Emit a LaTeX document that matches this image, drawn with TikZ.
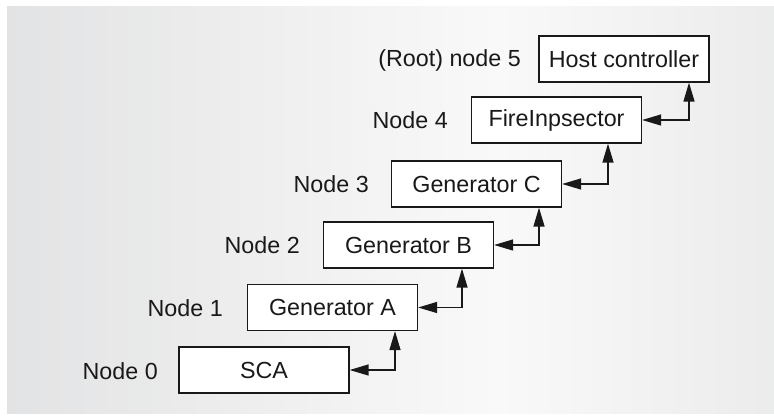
\documentclass[tikz,border=0pt]{standalone}
\usepackage{fontspec}
\setmainfont{Liberation Sans}
\usetikzlibrary{arrows.meta,calc}
\definecolor{bgL}{RGB}{209,210,212}
\definecolor{bgM}{RGB}{249,249,249}
\definecolor{bgR}{RGB}{216,217,219}
\definecolor{ink}{RGB}{25,25,25}
\pgfdeclarehorizontalshading{bgshade}{100bp}{color(0bp)=(bgL); color(57bp)=(bgM); color(100bp)=(bgR)}
\tikzset{
  box/.style={draw=ink, line width=1.3pt, fill=white, minimum width=170pt, minimum height=46pt, inner sep=0pt, text=ink, font=\fontsize{23.3}{25}\selectfont},
  lbl/.style={anchor=east, inner sep=0pt, text=ink, font=\fontsize{23.3}{25}\selectfont},
  link/.style={draw=ink, line width=1.4pt, {Triangle[length=19pt,width=11pt]}-{Triangle[length=19pt,width=11pt]}}
}
\begin{document}
\begin{tikzpicture}[x=1pt,y=-1pt]
\useasboundingbox (0,0) rectangle (774,419);
\fill[white] (0,0) rectangle (774,419);
\shade[shading=bgshade] (7,7) rectangle (774,414);
\node[box] (n0) at (264,370) {SCA};
\node[box] (n1) at (332.5,307.5) {Generator A};
\node[box] (n2) at (408.5,245) {Generator B};
\node[box] (n3) at (476.5,184) {Generator C};
\node[box] (n4) at (556.5,120) {FireInpsector};
\node[box] (n5) at (624,59) {Host controller};
\node[lbl] (l0) at (158,371) {Node 0};
\node[lbl] (l1) at (223,308) {Node 1};
\node[lbl] (l2) at (300,245) {Node 2};
\node[lbl] (l3) at (369,184) {Node 3};
\node[lbl] (l4) at (448,120) {Node 4};
\node[lbl] (l5) at (521,60) {(Root) node 5};
\coordinate (c0) at (395,0);
\coordinate (c1) at (462,0);
\coordinate (c2) at (539,0);
\coordinate (c3) at (608,0);
\coordinate (c4) at (689,0);
\draw[link] (n0.east) -| (c0 |- n1.south);
\draw[link] (n1.east) -| (c1 |- n2.south);
\draw[link] (n2.east) -| (c2 |- n3.south);
\draw[link] (n3.east) -| (c3 |- n4.south);
\draw[link] (n4.east) -| (c4 |- n5.south);
\end{tikzpicture}
\end{document}
